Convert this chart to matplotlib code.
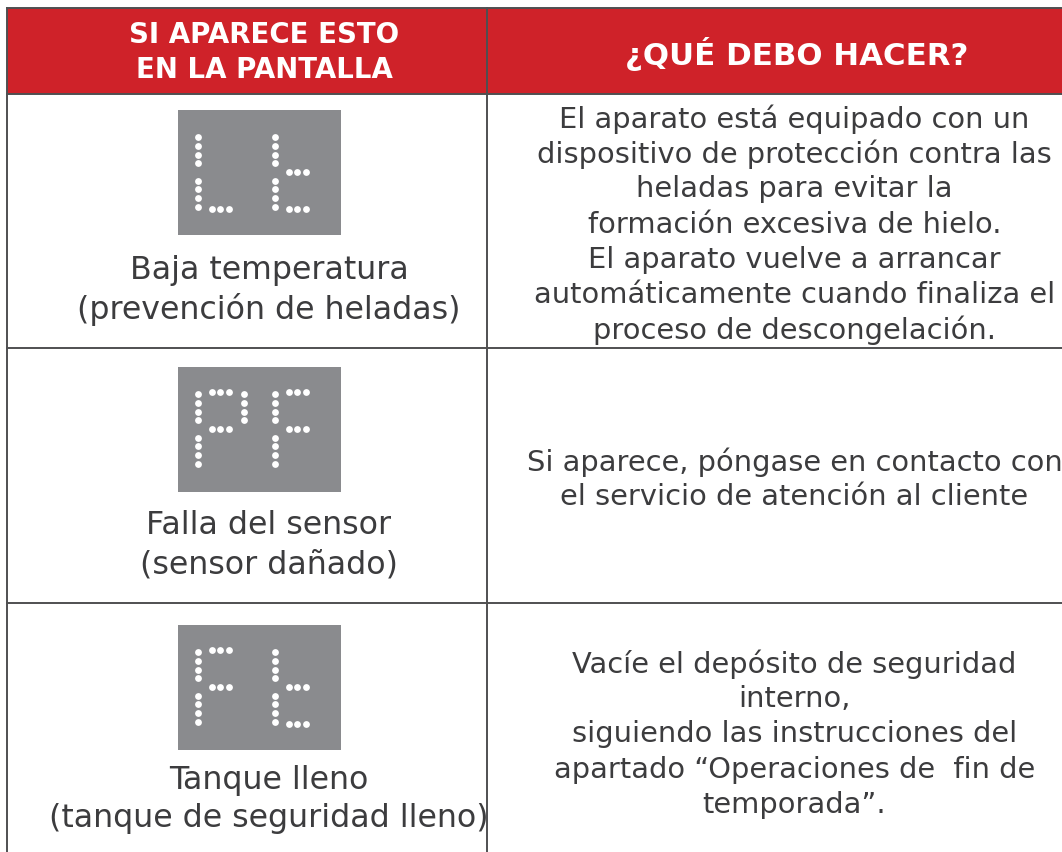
import matplotlib
matplotlib.use('Agg')
import matplotlib.pyplot as plt
from matplotlib.patches import Rectangle

# ------------------------- table content -------------------------
header_left = ['SI APARECE ESTO', 'EN LA PANTALLA']
header_right = ['¿QUÉ DEBO HACER?']

display_codes = ['Lt', 'PF', 'Ft']

left_cells = [
    ['Baja temperatura', '(prevención de heladas)'],
    ['Falla del sensor', '(sensor dañado)'],
    ['Tanque lleno', '(tanque de seguridad lleno)'],
]

right_cells = [
    ['El aparato está equipado con un',
     'dispositivo de protección contra las',
     'heladas para evitar la',
     'formación excesiva de hielo.',
     'El aparato vuelve a arrancar',
     'automáticamente cuando finaliza el',
     'proceso de descongelación.'],
    ['Si aparece, póngase en contacto con',
     'el servicio de atención al cliente'],
    ['Vacíe el depósito de seguridad',
     'interno,',
     'siguiendo las instrucciones del',
     'apartado “Operaciones de  fin de',
     'temporada”.'],
]

# which dot segments light up for each letter
glyphs = {
    'L': ['left_top', 'left_bottom', 'bottom'],
    't': ['left_top', 'left_bottom', 'middle', 'bottom'],
    'P': ['left_top', 'left_bottom', 'top', 'middle', 'right_top'],
    'F': ['left_top', 'left_bottom', 'top', 'middle'],
}

# ------------------------- layout, in pixels -------------------------
W, H = 1062, 852
RED = '#cf2229'
LINE = '#4f4f51'
PANEL = '#8a8b8e'
TEXT = '#3c3c3e'
FONT = 'DejaVu Sans'

x_left, x_split, x_right = 6.5, 486.5, 1070
y_head_top, y_head_bottom = 8, 94
row_lines = [348, 603, 860]
panel_tops = [110, 367, 625]
panel_x, panel_w, panel_h = 178, 163, 125
left_text_y = [270, 526, 780]
left_text_step = 39
right_text_y = [119, 462, 664]
right_text_step = 35.2
letter_x = [20, 97]


def draw_letter(ax, letter, x0, y0):
    xs, ys = [], []
    for seg in glyphs[letter]:
        if seg == 'left_top':
            xs += [x0] * 4
            ys += [y0 + 27 + i * 8.75 for i in range(4)]
        elif seg == 'left_bottom':
            xs += [x0] * 4
            ys += [y0 + 70.5 + i * 8.75 for i in range(4)]
        elif seg == 'right_top':
            xs += [x0 + 46] * 4
            ys += [y0 + 27 + i * 8.75 for i in range(4)]
        else:
            row = {'top': 25.3, 'middle': 62.2, 'bottom': 99}[seg]
            xs += [x0 + 13.7 + i * 8.75 for i in range(3)]
            ys += [y0 + row] * 3
    ax.scatter(xs, ys, s=24, color='white', linewidths=0, zorder=4)


fig = plt.figure(figsize=(W / 100, H / 100), dpi=100)
ax = fig.add_axes([0, 0, 1, 1])
ax.set_xlim(0, W)
ax.set_ylim(H, 0)
ax.axis('off')

# header band
ax.add_patch(Rectangle((x_left, y_head_top), x_right - x_left, y_head_bottom - y_head_top,
                       facecolor=RED, edgecolor='none', zorder=1))

# grid lines
for y in [y_head_top, y_head_bottom] + row_lines:
    ax.plot([x_left, x_right], [y, y], color=LINE, lw=1.4, zorder=2)
ax.plot([x_left, x_left], [y_head_top, H], color=LINE, lw=1.4, zorder=2)
ax.plot([x_split, x_split], [y_head_top, H], color=LINE, lw=1.4, zorder=2)

# header text
for i, line in enumerate(header_left):
    ax.text(264, 35 + i * 35, line, color='white', fontsize=19.9, fontweight='bold',
            family=FONT, ha='center', va='center')
ax.text(797, 54, header_right[0], color='white', fontsize=22.2, fontweight='bold',
        family=FONT, ha='center', va='center')

# display panels and captions
for r, code in enumerate(display_codes):
    ax.add_patch(Rectangle((panel_x, panel_tops[r]), panel_w, panel_h,
                           facecolor=PANEL, edgecolor='none', zorder=3))
    for c, letter in enumerate(code):
        draw_letter(ax, letter, panel_x + letter_x[c], panel_tops[r])
    for i, line in enumerate(left_cells[r]):
        ax.text(269, left_text_y[r] + i * left_text_step, line, color=TEXT, fontsize=22.8,
                family=FONT, ha='center', va='center')

# right column
for r, lines in enumerate(right_cells):
    for i, line in enumerate(lines):
        ax.text(794.5, right_text_y[r] + i * right_text_step, line, color=TEXT, fontsize=20.8,
                family=FONT, ha='center', va='center')

fig.savefig('out.png', dpi=100)
